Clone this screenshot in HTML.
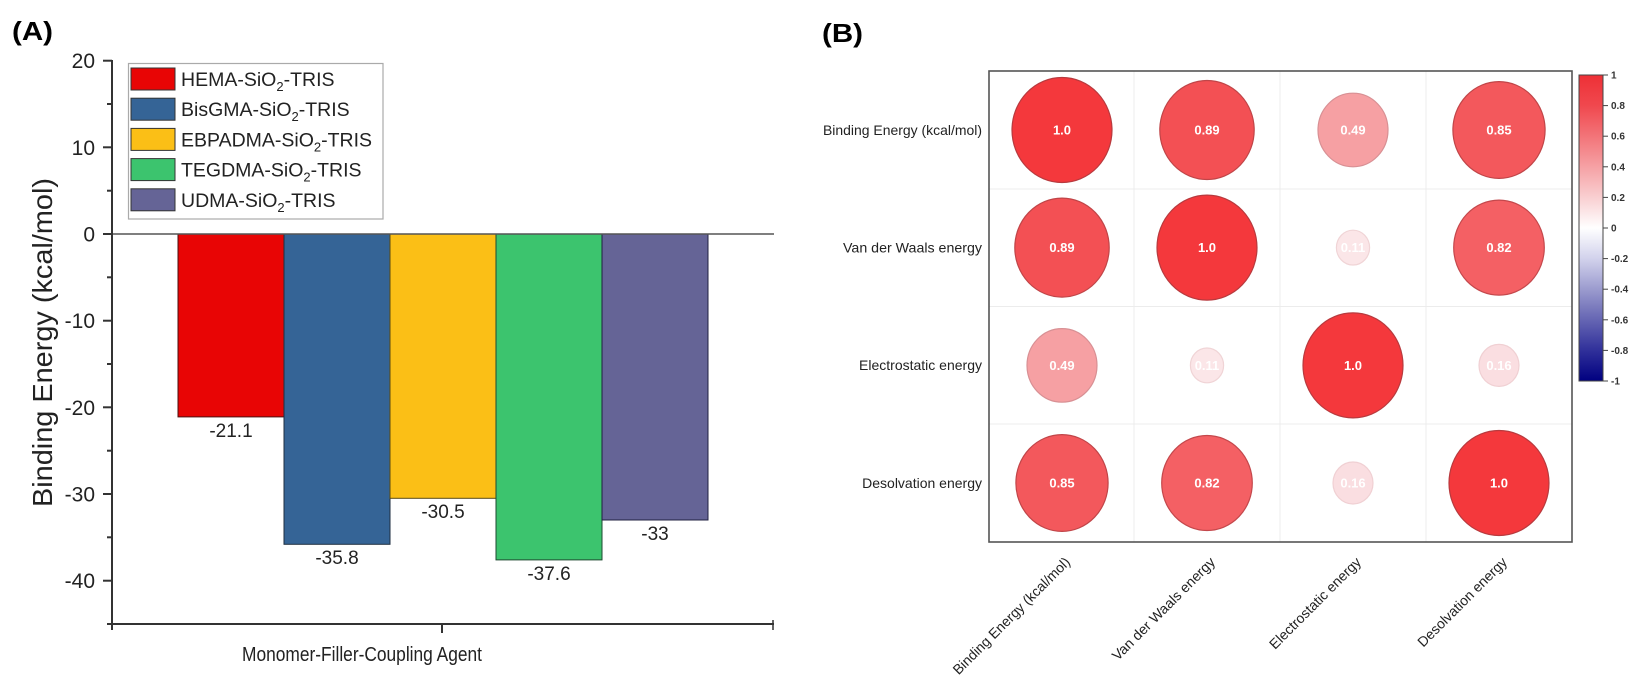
<!DOCTYPE html>
<html><head><meta charset="utf-8"><style>
html,body{margin:0;padding:0;background:#fff;}
svg{display:block;font-family:"Liberation Sans",Arial,sans-serif;}
</style></head><body>
<svg width="1646" height="685" viewBox="0 0 1646 685" xmlns="http://www.w3.org/2000/svg">
<defs>
<linearGradient id="cb" x1="0" y1="0" x2="0" y2="1">
<stop offset="0" stop-color="#ee3036"/>
<stop offset="0.1" stop-color="#f0484e"/>
<stop offset="0.25" stop-color="#f48a8e"/>
<stop offset="0.4" stop-color="#f9cfd1"/>
<stop offset="0.5" stop-color="#ffffff"/>
<stop offset="0.6" stop-color="#d2d2ec"/>
<stop offset="0.75" stop-color="#8080c0"/>
<stop offset="0.9" stop-color="#30309a"/>
<stop offset="1" stop-color="#000080"/>
</linearGradient>
</defs>

<!-- ============ Panel A ============ -->
<text x="12" y="40" font-size="26" font-weight="bold" textLength="41" lengthAdjust="spacingAndGlyphs">(A)</text>

<!-- bars -->
<rect x="178" y="234" width="106" height="182.9" fill="#e80505" stroke="#4a1010" stroke-width="1"/>
<rect x="284" y="234" width="106" height="310.3" fill="#356496" stroke="#1e2e40" stroke-width="1"/>
<rect x="390" y="234" width="106" height="264.3" fill="#fbbf16" stroke="#5a4a10" stroke-width="1"/>
<rect x="496" y="234" width="106" height="325.9" fill="#3cc46e" stroke="#1e4a30" stroke-width="1"/>
<rect x="602" y="234" width="106" height="286" fill="#656496" stroke="#202040" stroke-width="1"/>

<!-- zero line -->
<line x1="112" y1="234" x2="774" y2="234" stroke="#555" stroke-width="1.6"/>

<!-- axes -->
<line x1="112" y1="60" x2="112" y2="625" stroke="#333" stroke-width="2"/>
<line x1="111" y1="624" x2="774" y2="624" stroke="#333" stroke-width="2"/>
<line x1="442" y1="624" x2="442" y2="633" stroke="#333" stroke-width="2"/>
<line x1="773" y1="620" x2="773" y2="630" stroke="#333" stroke-width="1.5"/>
<line x1="112" y1="624" x2="112" y2="630" stroke="#333" stroke-width="2"/>

<!-- y ticks -->
<g stroke="#333" stroke-width="2">
<line x1="103" y1="60.7" x2="112" y2="60.7"/>
<line x1="103" y1="147.3" x2="112" y2="147.3"/>
<line x1="103" y1="234" x2="112" y2="234"/>
<line x1="103" y1="320.7" x2="112" y2="320.7"/>
<line x1="103" y1="407.3" x2="112" y2="407.3"/>
<line x1="103" y1="494" x2="112" y2="494"/>
<line x1="103" y1="580.7" x2="112" y2="580.7"/>
<line x1="107" y1="104" x2="112" y2="104"/>
<line x1="107" y1="190.7" x2="112" y2="190.7"/>
<line x1="107" y1="277.3" x2="112" y2="277.3"/>
<line x1="107" y1="364" x2="112" y2="364"/>
<line x1="107" y1="450.7" x2="112" y2="450.7"/>
<line x1="107" y1="537.3" x2="112" y2="537.3"/>
<line x1="107" y1="624" x2="112" y2="624"/>
</g>
<g font-size="21" fill="#222" text-anchor="end">
<text x="95" y="68">20</text>
<text x="95" y="155">10</text>
<text x="95" y="241.5">0</text>
<text x="95" y="328">-10</text>
<text x="95" y="415">-20</text>
<text x="95" y="501.5">-30</text>
<text x="95" y="588">-40</text>
</g>

<!-- y title -->
<text transform="translate(52,342.5) rotate(-90)" font-size="28" fill="#222" text-anchor="middle" textLength="329" lengthAdjust="spacingAndGlyphs">Binding Energy (kcal/mol)</text>

<!-- x title -->
<text x="242" y="661" font-size="20" fill="#222" textLength="240" lengthAdjust="spacingAndGlyphs">Monomer-Filler-Coupling Agent</text>

<!-- value labels -->
<g font-size="19" fill="#222" text-anchor="middle">
<text x="231" y="437">-21.1</text>
<text x="337" y="564">-35.8</text>
<text x="443" y="518">-30.5</text>
<text x="549" y="580">-37.6</text>
<text x="655" y="540">-33</text>
</g>

<!-- legend -->
<rect x="128.5" y="63.5" width="254.5" height="155.5" fill="#fff" stroke="#aaa" stroke-width="1.2"/>
<g stroke="#333" stroke-width="1">
<rect x="131" y="68" width="44" height="22" fill="#e80505"/>
<rect x="131" y="98.2" width="44" height="22" fill="#356496"/>
<rect x="131" y="128.4" width="44" height="22" fill="#fbbf16"/>
<rect x="131" y="158.6" width="44" height="22" fill="#3cc46e"/>
<rect x="131" y="188.8" width="44" height="22" fill="#656496"/>
</g>
<g font-size="19.5" fill="#222">
<text x="181" y="86">HEMA-SiO<tspan font-size="13" dy="5">2</tspan><tspan dy="-5">-TRIS</tspan></text>
<text x="181" y="116.2">BisGMA-SiO<tspan font-size="13" dy="5">2</tspan><tspan dy="-5">-TRIS</tspan></text>
<text x="181" y="146.4">EBPADMA-SiO<tspan font-size="13" dy="5">2</tspan><tspan dy="-5">-TRIS</tspan></text>
<text x="181" y="176.6">TEGDMA-SiO<tspan font-size="13" dy="5">2</tspan><tspan dy="-5">-TRIS</tspan></text>
<text x="181" y="206.8">UDMA-SiO<tspan font-size="13" dy="5">2</tspan><tspan dy="-5">-TRIS</tspan></text>
</g>

<!-- ============ Panel B ============ -->
<text x="822" y="42" font-size="26" font-weight="bold" textLength="41" lengthAdjust="spacingAndGlyphs">(B)</text>

<!-- grid -->
<g stroke="#ececec" stroke-width="1">
<line x1="1134" y1="71" x2="1134" y2="542"/>
<line x1="1280" y1="71" x2="1280" y2="542"/>
<line x1="1426" y1="71" x2="1426" y2="542"/>
<line x1="989" y1="189" x2="1572" y2="189"/>
<line x1="989" y1="306.5" x2="1572" y2="306.5"/>
<line x1="989" y1="424" x2="1572" y2="424"/>
</g>
<rect x="989" y="71" width="583" height="471" fill="none" stroke="#555" stroke-width="1.6"/>

<!-- circles -->
<g stroke-width="1.2">
<!-- row 1 -->
<ellipse cx="1062" cy="130" rx="50" ry="52.5" fill="#f4383c" stroke="#b83a3e"/>
<ellipse cx="1207" cy="130" rx="47.2" ry="49.5" fill="#f35054" stroke="#c04548"/>
<ellipse cx="1353" cy="130" rx="35" ry="36.8" fill="#f6a0a3" stroke="#d89094"/>
<ellipse cx="1499" cy="130" rx="46.1" ry="48.4" fill="#f3585c" stroke="#c04548"/>
<!-- row 2 -->
<ellipse cx="1062" cy="247.6" rx="47.2" ry="49.5" fill="#f35054" stroke="#c04548"/>
<ellipse cx="1207" cy="247.6" rx="50" ry="52.5" fill="#f4383c" stroke="#b83a3e"/>
<ellipse cx="1353" cy="247.6" rx="16.6" ry="17.4" fill="#fbe6e8" stroke="#f0d4d6"/>
<ellipse cx="1499" cy="247.6" rx="45.3" ry="47.5" fill="#f46064" stroke="#c4484c"/>
<!-- row 3 -->
<ellipse cx="1062" cy="365.4" rx="35" ry="36.8" fill="#f6a0a3" stroke="#d89094"/>
<ellipse cx="1207" cy="365.4" rx="16.6" ry="17.4" fill="#fbe6e8" stroke="#f0d4d6"/>
<ellipse cx="1353" cy="365.4" rx="50" ry="52.5" fill="#f4383c" stroke="#b83a3e"/>
<ellipse cx="1499" cy="365.4" rx="20" ry="21" fill="#fadee1" stroke="#f0d0d3"/>
<!-- row 4 -->
<ellipse cx="1062" cy="483" rx="46.1" ry="48.4" fill="#f3585c" stroke="#c04548"/>
<ellipse cx="1207" cy="483" rx="45.3" ry="47.5" fill="#f46064" stroke="#c4484c"/>
<ellipse cx="1353" cy="483" rx="20" ry="21" fill="#fadee1" stroke="#f0d0d3"/>
<ellipse cx="1499" cy="483" rx="50" ry="52.5" fill="#f4383c" stroke="#b83a3e"/>
</g>
<g font-size="13" font-weight="bold" fill="#fff" text-anchor="middle">
<text x="1062" y="134.6">1.0</text>
<text x="1207" y="134.6">0.89</text>
<text x="1353" y="134.6">0.49</text>
<text x="1499" y="134.6">0.85</text>
<text x="1062" y="252.2">0.89</text>
<text x="1207" y="252.2">1.0</text>
<text x="1353" y="252.2">0.11</text>
<text x="1499" y="252.2">0.82</text>
<text x="1062" y="370">0.49</text>
<text x="1207" y="370">0.11</text>
<text x="1353" y="370">1.0</text>
<text x="1499" y="370">0.16</text>
<text x="1062" y="487.6">0.85</text>
<text x="1207" y="487.6">0.82</text>
<text x="1353" y="487.6">0.16</text>
<text x="1499" y="487.6">1.0</text>
</g>

<!-- row labels -->
<g font-size="14" fill="#222" text-anchor="end">
<text x="982" y="135" textLength="159" lengthAdjust="spacingAndGlyphs">Binding Energy (kcal/mol)</text>
<text x="982" y="252.5" textLength="139" lengthAdjust="spacingAndGlyphs">Van der Waals energy</text>
<text x="982" y="370">Electrostatic energy</text>
<text x="982" y="488">Desolvation energy</text>
</g>

<!-- column labels -->
<g font-size="14" fill="#222" text-anchor="end">
<text transform="translate(1071,563) rotate(-45)" textLength="159" lengthAdjust="spacingAndGlyphs">Binding Energy (kcal/mol)</text>
<text transform="translate(1216,563) rotate(-45)" textLength="139" lengthAdjust="spacingAndGlyphs">Van der Waals energy</text>
<text transform="translate(1362,563) rotate(-45)">Electrostatic energy</text>
<text transform="translate(1508,563) rotate(-45)">Desolvation energy</text>
</g>

<!-- colorbar -->
<rect x="1579" y="75" width="24" height="306" fill="url(#cb)" stroke="#444" stroke-width="1"/>
<g stroke="#444" stroke-width="1">
<line x1="1603" y1="75" x2="1608" y2="75"/>
<line x1="1603" y1="105.6" x2="1608" y2="105.6"/>
<line x1="1603" y1="136.2" x2="1608" y2="136.2"/>
<line x1="1603" y1="166.8" x2="1608" y2="166.8"/>
<line x1="1603" y1="197.4" x2="1608" y2="197.4"/>
<line x1="1603" y1="228" x2="1608" y2="228"/>
<line x1="1603" y1="258.6" x2="1608" y2="258.6"/>
<line x1="1603" y1="289.2" x2="1608" y2="289.2"/>
<line x1="1603" y1="319.8" x2="1608" y2="319.8"/>
<line x1="1603" y1="350.4" x2="1608" y2="350.4"/>
<line x1="1603" y1="381" x2="1608" y2="381"/>
</g>
<g font-size="10" fill="#333" font-weight="bold">
<text x="1611" y="78.5">1</text>
<text x="1611" y="109">0.8</text>
<text x="1611" y="139.7">0.6</text>
<text x="1611" y="170.3">0.4</text>
<text x="1611" y="200.9">0.2</text>
<text x="1611" y="231.5">0</text>
<text x="1611" y="262">-0.2</text>
<text x="1611" y="292.7">-0.4</text>
<text x="1611" y="323.3">-0.6</text>
<text x="1611" y="353.9">-0.8</text>
<text x="1611" y="384.5">-1</text>
</g>
</svg>
</body></html>
